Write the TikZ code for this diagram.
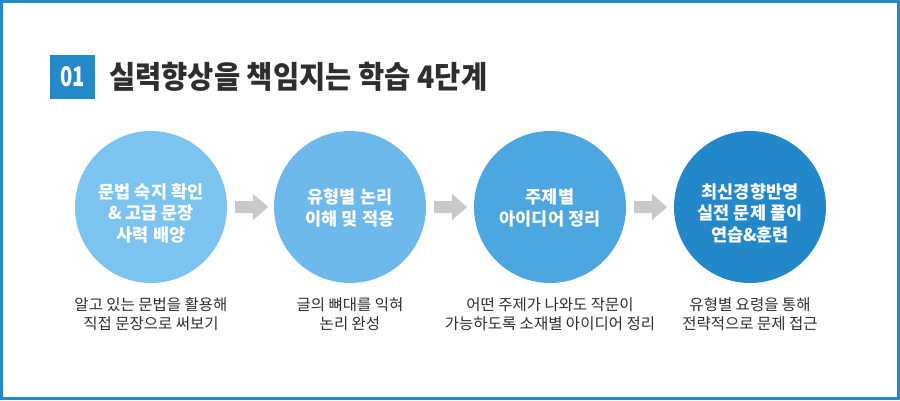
\documentclass[tikz,border=0pt]{standalone}
\usepackage{fontspec}
\setmainfont{Noto Sans CJK KR}
\usetikzlibrary{calc}
\definecolor{frameblue}{HTML}{2489C8}
\definecolor{cA}{HTML}{7CC4F0}
\definecolor{cB}{HTML}{6DB9EB}
\definecolor{cC}{HTML}{4CA7E1}
\definecolor{cD}{HTML}{2388C9}
\definecolor{arrowgray}{HTML}{C9C9C9}
\definecolor{txt}{HTML}{2E2E2E}
\tikzset{
  stage/.style={circle, minimum size=152pt, inner sep=0pt},
  intext/.style={text=white, font=\fontsize{17.5}{21.5}\selectfont\bfseries, align=center},
  desc/.style={text=txt, font=\fontsize{15.5}{18.5}\selectfont, align=center},
  blockarrow/.style={fill=arrowgray}
}
\begin{document}
\begin{tikzpicture}[x=1pt,y=-1pt]
\useasboundingbox (0,0) rectangle (900,400);
\draw[frameblue, line width=3pt] (1.5,1.5) rectangle (898.5,398.5);
% title
\node[fill=frameblue, minimum width=45pt, minimum height=44pt, inner sep=0pt, text=white,
      font=\fontsize{27}{27}\selectfont\bfseries] (num) at (72.5,76.5) {\scalebox{0.75}[1]{01}};
\node[anchor=west, text=txt, font=\fontsize{31}{31}\selectfont\bfseries, inner sep=0pt]
  (title) at (109,76.5) {\scalebox{0.92}[1]{실력향상을 책임지는 학습 4단계}};
% circles
\node[stage, fill=cA] (c1) at (151,207) {};
\node[stage, fill=cB] (c2) at (350,207) {};
\node[stage, fill=cC] (c3) at (550,207) {};
\node[stage, fill=cD] (c4) at (750,207) {};
\node[intext] (t1) at (151,213) {문법 숙지 확인\\\& 고급 문장\\사력 배양};
\node[intext] (t2) at (350,208) {유형별 논리\\이해 및 적용};
\node[intext] (t3) at (550,208) {주제별\\아이디어 정리};
\node[intext] (t4) at (750,213) {최신경향반영\\실전 문제 풀이\\연습\&훈련};
% descriptions
\node[desc] (d1) at (151,314) {알고 있는 문법을 활용해\\직접 문장으로 써보기};
\node[desc] (d2) at (350,314) {글의 뼈대를 익혀\\논리 완성};
\node[desc] (d3) at (550,314) {어떤 주제가 나와도 작문이\\가능하도록 소재별 아이디어 정리};
\node[desc] (d4) at (750,314) {유형별 요령을 통해\\전략적으로 문제 접근};
% arrows
\foreach \a in {c1,c2,c3}{
  \coordinate (s) at ($(\a.east)+(8,0)$);
  \fill[blockarrow] ($(s)+(0,-6)$) -- ++(18,0) -- ++(0,-7) -- ($(s)+(33,0)$) -- ($(s)+(18,13)$) -- ++(0,-7) -- ($(s)+(0,6)$) -- cycle;
}
\end{tikzpicture}
\end{document}
